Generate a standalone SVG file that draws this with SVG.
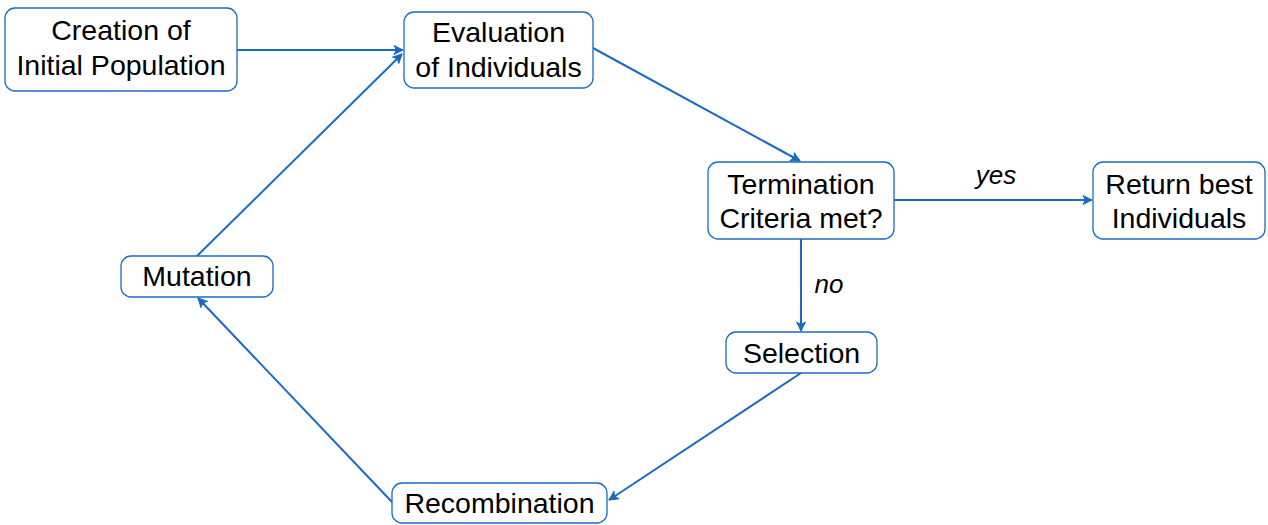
<svg xmlns="http://www.w3.org/2000/svg" width="1268" height="525" viewBox="0 0 1268 525">
  <style>
    .box { fill: #ffffff; stroke: #1b6ac1; stroke-width: 1.3; }
    .lbl { font-family: "Liberation Sans", Arial, sans-serif; font-size: 28.5px; fill: #000000; text-anchor: middle; }
    .edge { fill: none; stroke: #1b6ac1; stroke-width: 2; marker-end: url(#arrow); }
    .elbl { font-family: "Liberation Sans", Arial, sans-serif; font-size: 26px; font-style: italic; fill: #000000; text-anchor: middle; }
  </style>
  <defs>
    <!-- small barbed arrowhead, tip at (12,7) -->
    <marker id="arrow" markerWidth="14" markerHeight="14" refX="12" refY="7" orient="auto" markerUnits="userSpaceOnUse">
      <path d="M 12 7 L 3 2.5 Q 6.5 7 3 11.5 Z" fill="#1b6ac1" stroke="#1b6ac1" stroke-width="1" stroke-linejoin="round"/>
    </marker>
  </defs>
  <rect width="1268" height="525" fill="#ffffff"/>

  <g id="connectors">
    <line class="edge" x1="237" y1="50" x2="403" y2="50"/>
    <line class="edge" x1="197" y1="256" x2="402" y2="54"/>
    <line class="edge" x1="593" y1="48" x2="800" y2="161"/>
    <line class="edge" x1="894" y1="200" x2="1092" y2="200"/>
    <line class="edge" x1="801" y1="239" x2="801" y2="331"/>
    <line class="edge" x1="801" y1="373" x2="609" y2="500"/>
    <line class="edge" x1="392" y1="502" x2="198" y2="298"/>
    <text class="elbl" x="996" y="184">yes</text>
    <text class="elbl" x="829" y="293">no</text>
  </g>

  <g id="creation">
    <rect class="box" x="5" y="8" width="232" height="83" rx="10"/>
    <text class="lbl" x="121" y="40">Creation of</text>
    <text class="lbl" x="121" y="75">Initial Population</text>
  </g>

  <g id="evaluation">
    <rect class="box" x="404" y="12" width="189" height="76" rx="10"/>
    <text class="lbl" x="498.5" y="42">Evaluation</text>
    <text class="lbl" x="498.5" y="77">of Individuals</text>
  </g>

  <g id="termination">
    <rect class="box" x="708" y="162" width="186" height="77" rx="10"/>
    <text class="lbl" x="801" y="194">Termination</text>
    <text class="lbl" x="801" y="228">Criteria met?</text>
  </g>

  <g id="result">
    <rect class="box" x="1093" y="162" width="172" height="77" rx="10"/>
    <text class="lbl" x="1179" y="194">Return best</text>
    <text class="lbl" x="1179" y="228">Individuals</text>
  </g>

  <g id="mutation">
    <rect class="box" x="121" y="256" width="152" height="41" rx="10"/>
    <text class="lbl" x="197" y="286">Mutation</text>
  </g>

  <g id="selection">
    <rect class="box" x="726" y="332" width="151" height="41" rx="10"/>
    <text class="lbl" x="801.5" y="363">Selection</text>
  </g>

  <g id="recombination">
    <rect class="box" x="392" y="483" width="215" height="40" rx="10"/>
    <text class="lbl" x="499.5" y="513">Recombination</text>
  </g>
</svg>
